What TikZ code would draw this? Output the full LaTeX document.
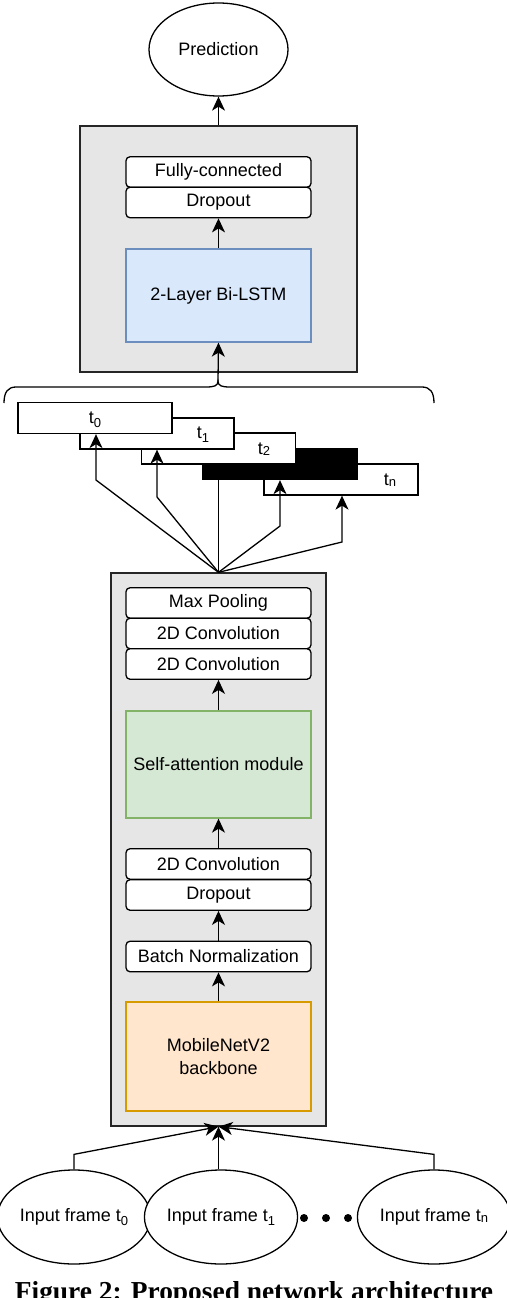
\documentclass[tikz,border=0pt]{standalone}
\usepackage{fontspec}
\setmainfont{Liberation Sans}
\newfontfamily\capfont{Liberation Serif}
\usetikzlibrary{arrows.meta,shapes.geometric}
\definecolor{grayfill}{HTML}{E6E6E6}
\definecolor{blueF}{HTML}{DAE8FC}
\definecolor{blueD}{HTML}{6C8EBF}
\definecolor{greenF}{HTML}{D5E8D4}
\definecolor{greenD}{HTML}{82B366}
\definecolor{orangeF}{HTML}{FFE6CC}
\definecolor{orangeD}{HTML}{D79B00}
\newcommand\mysub[1]{\raisebox{-4pt}{\fontsize{13}{13}\selectfont #1}}
\newcommand\mysml[1]{\raisebox{-1pt}{\fontsize{13}{13}\selectfont #1}}
\tikzset{
  base/.style={font=\fontsize{18}{23}\selectfont, inner sep=0pt, line width=1.3pt},
  graybox/.style={base, draw=black!85, fill=grayfill, rectangle},
  layer/.style={base, draw=black, fill=white, rounded corners=4pt, minimum width=185pt, minimum height=30.5pt},
  bigbox/.style={base, minimum width=185pt, align=center},
  tbox/.style={base, draw=black, fill=white, minimum width=154pt, minimum height=31pt},
  oval/.style={base, draw=black, fill=white, ellipse, minimum width=142pt, minimum height=94pt},
  arr/.style={line width=1.3pt, -{Stealth[length=14pt,width=13pt,inset=4pt]}},
  conn/.style={line width=1.3pt},
  dotn/.style={circle, fill=black, inner sep=0pt, minimum size=8pt},
  lbl/.style={base}
}
\begin{document}
\begin{tikzpicture}[x=1pt,y=-1pt]
\useasboundingbox (0,0) rectangle (506,1298);
% Prediction
\node[oval, minimum width=139pt, minimum height=93pt] (pred) at (218.5,49.5) {Prediction};
% upper box
\node[graybox, minimum width=277pt, minimum height=246pt] (ub) at (218.5,249) {};
\node[layer] (fc) at (218.5,172) {Fully-connected};
\node[layer] (dr1) at (218.5,202.5) {Dropout};
\node[bigbox, draw=blueD, fill=blueF, minimum height=93pt] (lstm) at (218.5,295.5) {2-Layer Bi-LSTM};
\draw[arr] (ub.north) -- (pred.south);
\draw[arr] (lstm.north) -- (dr1.south);
% brace
\coordinate (bt) at (218,381);
\draw[conn] (4,403) .. controls (4,392) and (8,387) .. (16,387) -- (206,387)
  .. controls (214,387) and (218,386) .. (bt)
  .. controls (218,386) and (222,387) .. (230,387) -- (422,387)
  .. controls (430,387) and (434,392) .. (434,403);
\draw[arr] (bt) -- (lstm.south);
% staggered time boxes
\node[tbox] (tn) at (341,479.5) {};
\node[tbox, fill=black] (blk) at (280,464) {};
\node[tbox] (t2) at (218.5,448.5) {};
\node[tbox] (t1) at (157,433.5) {};
\node[tbox] (t0) at (95,418) {};
\node[lbl] (l0) at (95,420) {t\mysub{0}};
\node[lbl] (l1) at (203,435) {t\mysub{1}};
\node[lbl] (l2) at (264,449) {t\mysml{2}};
\node[lbl] (ln) at (390,480) {t\mysml{n}};
% lower box
\node[graybox, minimum width=215pt, minimum height=553pt] (lb) at (218.5,849.5) {};
\node[layer] (mp) at (218.5,603) {Max Pooling};
\node[layer] (c1) at (218.5,633.5) {2D Convolution};
\node[layer] (c2) at (218.5,664) {2D Convolution};
\node[bigbox, draw=greenD, fill=greenF, minimum height=107pt] (sa) at (218.5,764.5) {Self-attention module};
\node[layer] (c3) at (218.5,864) {2D Convolution};
\node[layer] (dr2) at (218.5,895) {Dropout};
\node[layer] (bn) at (218.5,956.5) {Batch Normalization};
\node[bigbox, draw=orangeD, fill=orangeF, minimum height=109pt] (mn) at (218.5,1056.5) {MobileNetV2\\backbone};
\draw[arr] (sa.north) -- (c2.south);
\draw[arr] (c3.north) -- (sa.south);
\draw[arr] (bn.north) -- (dr2.south);
\draw[arr] (mn.north) -- (bn.south);
% fan-out arrows
\coordinate (b0) at (96,480);
\coordinate (b1) at (157,497);
\coordinate (b3) at (280,526);
\coordinate (b4) at (342,542);
\draw[arr] (lb.north) -- (b0) -- (b0 |- t0.south);
\draw[arr] (lb.north) -- (b1) -- (b1 |- t1.south);
\draw[conn] (lb.north) -- (lb.north |- blk.south);
\draw[arr] (lb.north) -- (b3) -- (b3 |- blk.south);
\draw[arr] (lb.north) -- (b4) -- (b4 |- tn.south);
% inputs
\node[oval] (in0) at (74,1217) {Input frame t\mysub{0}};
\node[oval] (in1) at (221,1217) {Input frame t\mysub{1}};
\node[oval] (in2) at (434,1217) {Input frame t\mysml{n}};
\node[dotn] (d1) at (304,1218) {};
\node[dotn] (d2) at (326,1218) {};
\node[dotn] (d3) at (348,1218) {};
\draw[arr] (in0.north) -- ++(0,-15) -- (lb.south);
\draw[arr] (in1.north -| lb.south) -- (lb.south);
\draw[arr] (in2.north) -- ++(0,-15) -- (lb.south);
% caption
\node[anchor=base, inner sep=0pt, font=\capfont\bfseries\fontsize{27.4}{30}\selectfont] (cap) at (254,1300) {Figure 2: Proposed network architecture};
\end{tikzpicture}
\end{document}
